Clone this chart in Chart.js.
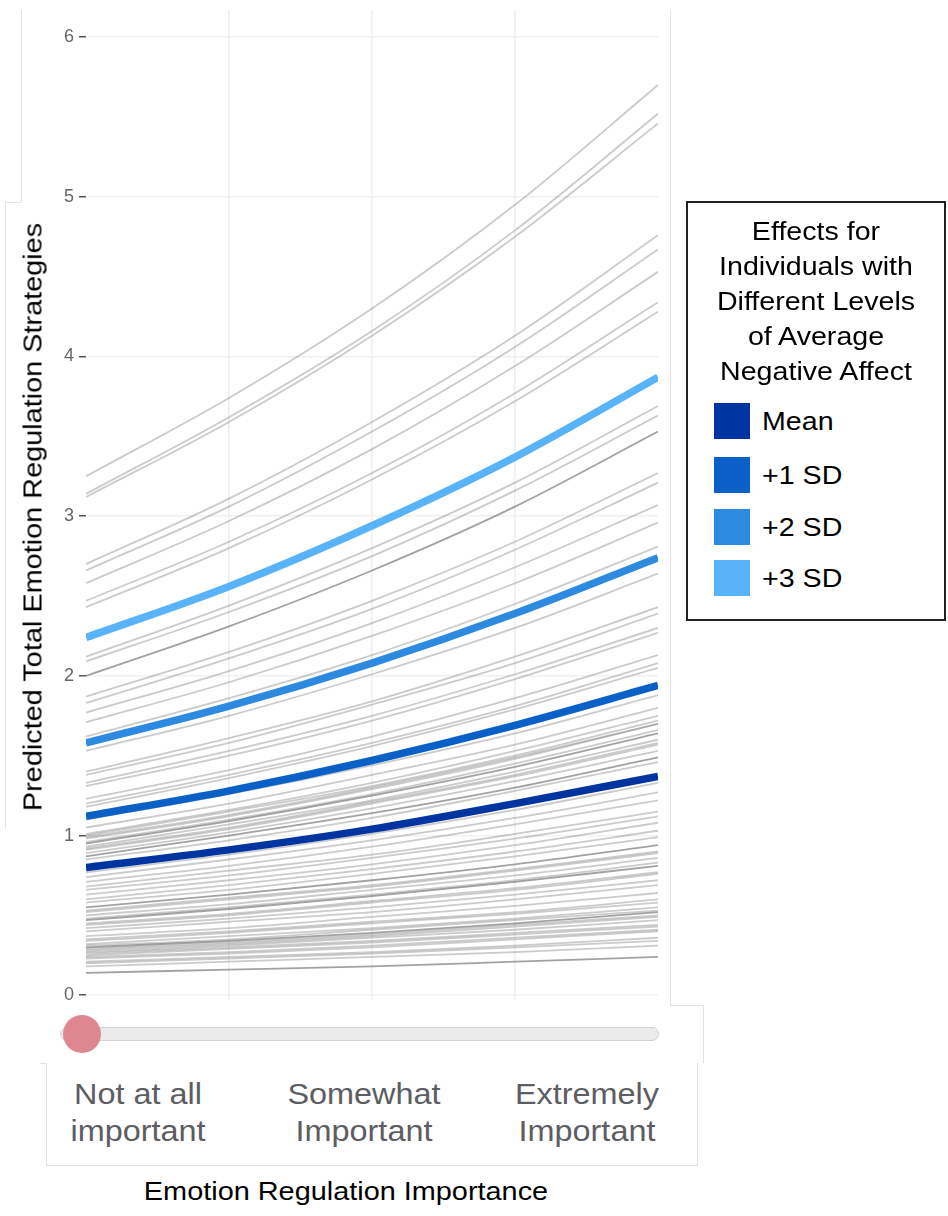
<!DOCTYPE html>
<html>
<head>
<meta charset="utf-8">
<title>Emotion Regulation Importance</title>
<script src="https://cdn.jsdelivr.net/npm/chart.js@4.4.1/dist/chart.umd.min.js"></script>
<style>
  html, body { margin: 0; padding: 0; background: #fff; }
  body { width: 948px; height: 1216px; position: relative; overflow: hidden; font-family: "Liberation Sans", Arial, sans-serif; }
  #wrap { position: absolute; left: 0; top: 0; width: 680px; height: 1000px; }
  .edge { position: absolute; background: #e2e2e2; }
  #y-title { position: absolute; left: 33px; top: 517px; transform: translate(-50%, -50%) rotate(-90deg) scaleX(1.11); white-space: nowrap; font-size: 26px; color: #000; }
  #track { position: absolute; left: 60px; top: 1027px; width: 597px; height: 12px; background: #ebebeb; border: 1px solid #d2d2d2; border-radius: 8px; }
  #knob { position: absolute; left: 63px; top: 1015px; width: 38px; height: 38px; border-radius: 50%; background: #df8791; }
  .lvl { position: absolute; top: 1075px; width: 220px; margin-left: -110px; text-align: center; font-size: 30px; line-height: 37px; color: #5c5d63; transform: scaleX(1.08); }
  #x-title { position: absolute; left: 346px; top: 1176px; transform: translateX(-50%) scaleX(1.11); white-space: nowrap; font-size: 26px; color: #000; }
  #legend { position: absolute; left: 686px; top: 201px; width: 256px; height: 416px; border: 2px solid #222; box-sizing: content-box; }
  #legend .ttl { margin-top: 11px; text-align: center; font-size: 26px; line-height: 35px; color: #000; transform: scaleX(1.1); }
  .item { position: absolute; left: 26px; height: 36px; }
  .item .sw { position: absolute; left: 0; top: 0; width: 36px; height: 36px; }
  .item .lb { position: absolute; left: 48px; top: 0; line-height: 36px; font-size: 26px; color: #000; white-space: nowrap; transform: scaleX(1.1); transform-origin: left center; }
</style>
</head>
<body>

<div class="edge" style="left:21px; top:10px; width:1px; height:192px;"></div>
<div class="edge" style="left:5px; top:202px; width:16px; height:1px;"></div>
<div class="edge" style="left:5px; top:202px; width:1px; height:626px;"></div>
<div class="edge" style="left:670px; top:10px; width:1px; height:995px;"></div>
<div class="edge" style="left:670px; top:1005px; width:34px; height:1px;"></div>
<div class="edge" style="left:703px; top:1005px; width:1px; height:58px;"></div>
<div class="edge" style="left:40px; top:1063px; width:6px; height:1px;"></div>
<div class="edge" style="left:46px; top:1063px; width:1px; height:102px;"></div>
<div class="edge" style="left:46px; top:1165px; width:652px; height:1px;"></div>
<div class="edge" style="left:697px; top:1063px; width:1px; height:102px;"></div>

<div id="wrap"><canvas id="chart"></canvas></div>
<div id="y-title">Predicted Total Emotion Regulation Strategies</div>
<div id="track"></div>
<div id="knob"></div>
<div id="levels"></div>
<div id="x-title">Emotion Regulation Importance</div>
<div id="legend"><div class="ttl">Effects for<br>Individuals with<br>Different Levels<br>of Average<br>Negative Affect</div></div>

<script>
// Niveaux de l'axe x (1 = pas du tout important ... 5 = extrêmement important)
const importanceLevels = [1, 2, 3, 4, 5];

// Courbes individuelles (gris)
const individualLines = [
  [3.25, 3.74, 4.30, 4.95, 5.70],
  [3.14, 3.62, 4.16, 4.79, 5.52],
  [3.12, 3.59, 4.13, 4.75, 5.46],
  [2.70, 3.11, 3.59, 4.13, 4.76],
  [2.66, 3.06, 3.53, 4.06, 4.67],
  [2.58, 2.97, 3.42, 3.94, 4.53],
  [2.47, 2.84, 3.27, 3.77, 4.34],
  [2.43, 2.80, 3.23, 3.72, 4.28],
  [2.12, 2.44, 2.80, 3.21, 3.69],
  [2.09, 2.40, 2.75, 3.16, 3.63],
  [2.00, 2.31, 2.66, 3.06, 3.53],
  [1.87, 2.15, 2.47, 2.84, 3.27],
  [1.83, 2.11, 2.42, 2.79, 3.21],
  [1.77, 2.03, 2.33, 2.68, 3.07],
  [1.71, 1.96, 2.25, 2.58, 2.96],
  [1.62, 1.86, 2.13, 2.45, 2.81],
  [1.53, 1.75, 2.01, 2.30, 2.64],
  [1.40, 1.61, 1.84, 2.12, 2.43],
  [1.38, 1.58, 1.82, 2.08, 2.39],
  [1.33, 1.53, 1.75, 2.01, 2.30],
  [1.31, 1.50, 1.72, 1.98, 2.27],
  [1.23, 1.41, 1.62, 1.86, 2.13],
  [1.20, 1.38, 1.58, 1.81, 2.08],
  [1.18, 1.36, 1.56, 1.79, 2.05],
  [1.10, 1.26, 1.44, 1.64, 1.88],
  [1.05, 1.20, 1.38, 1.57, 1.80],
  [1.01, 1.16, 1.33, 1.53, 1.75],
  [1.00, 1.15, 1.31, 1.50, 1.72],
  [0.99, 1.13, 1.30, 1.49, 1.70],
  [0.98, 1.12, 1.29, 1.48, 1.70],
  [0.96, 1.10, 1.26, 1.45, 1.66],
  [0.95, 1.09, 1.25, 1.43, 1.64],
  [0.93, 1.07, 1.22, 1.40, 1.60],
  [0.92, 1.05, 1.21, 1.38, 1.58],
  [0.91, 1.04, 1.20, 1.37, 1.57],
  [0.89, 1.02, 1.17, 1.34, 1.53],
  [0.87, 1.00, 1.14, 1.30, 1.49],
  [0.85, 0.97, 1.11, 1.28, 1.46],
  [0.77, 0.88, 1.01, 1.16, 1.33],
  [0.74, 0.85, 0.97, 1.11, 1.27],
  [0.71, 0.81, 0.93, 1.07, 1.22],
  [0.68, 0.78, 0.88, 1.01, 1.15],
  [0.66, 0.75, 0.86, 0.98, 1.12],
  [0.63, 0.72, 0.82, 0.94, 1.08],
  [0.60, 0.69, 0.79, 0.90, 1.03],
  [0.58, 0.66, 0.76, 0.87, 0.99],
  [0.55, 0.63, 0.72, 0.82, 0.94],
  [0.53, 0.61, 0.69, 0.79, 0.90],
  [0.52, 0.60, 0.68, 0.78, 0.89],
  [0.50, 0.57, 0.66, 0.75, 0.86],
  [0.48, 0.55, 0.63, 0.72, 0.83],
  [0.47, 0.54, 0.62, 0.71, 0.81],
  [0.45, 0.51, 0.59, 0.67, 0.77],
  [0.44, 0.50, 0.58, 0.66, 0.76],
  [0.42, 0.48, 0.55, 0.63, 0.72],
  [0.40, 0.46, 0.52, 0.60, 0.69],
  [0.37, 0.42, 0.49, 0.56, 0.64],
  [0.35, 0.40, 0.46, 0.52, 0.60],
  [0.34, 0.39, 0.45, 0.51, 0.58],
  [0.32, 0.37, 0.42, 0.48, 0.55],
  [0.31, 0.35, 0.41, 0.47, 0.53],
  [0.30, 0.34, 0.39, 0.45, 0.52],
  [0.29, 0.33, 0.38, 0.44, 0.50],
  [0.28, 0.32, 0.37, 0.43, 0.49],
  [0.27, 0.31, 0.36, 0.41, 0.47],
  [0.26, 0.30, 0.34, 0.39, 0.44],
  [0.25, 0.29, 0.33, 0.38, 0.43],
  [0.24, 0.27, 0.31, 0.36, 0.41],
  [0.23, 0.26, 0.30, 0.35, 0.40],
  [0.21, 0.24, 0.27, 0.31, 0.36],
  [0.20, 0.23, 0.26, 0.30, 0.34],
  [0.18, 0.21, 0.24, 0.27, 0.31],
  [0.14, 0.16, 0.18, 0.21, 0.24]
];
// lignes un peu plus foncées (superpositions)
const darkerLines = [10, 31, 36, 46, 51, 61, 72];

// Effets moyens selon le niveau d'affect négatif
const meanValues  = [0.80, 0.91, 1.04, 1.20, 1.37];
const sd1Values   = [1.12, 1.28, 1.47, 1.69, 1.94];
const sd2Values   = [1.58, 1.81, 2.08, 2.39, 2.74];
const sd3Values   = [2.24, 2.56, 2.94, 3.37, 3.87];

const legendLabels = ['Mean', '+1 SD', '+2 SD', '+3 SD'];
const legendColors = ['#0034a0', '#0a60c6', '#2e89e0', '#58b3fa'];
const levelLabels = [['Not at all', 'important'], ['Somewhat', 'Important'], ['Extremely', 'Important']];
const levelCenters = [138, 364, 587];

const pts = (arr) => arr.map((v, i) => ({ x: importanceLevels[i], y: v }));

const datasets = [];
[meanValues, sd1Values, sd2Values, sd3Values].forEach((serie, i) => {
  datasets.push({
    label: legendLabels[i], data: pts(serie), borderColor: legendColors[i],
    borderWidth: 7.5, pointRadius: 0, cubicInterpolationMode: 'monotone', order: 3 - i
  });
});
individualLines.forEach((serie, i) => {
  const fonce = darkerLines.includes(i);
  datasets.push({
    label: 'ind' + i, data: pts(serie),
    borderColor: fonce ? 'rgba(100,100,100,0.6)' : 'rgba(110,110,110,0.36)',
    borderWidth: 1.8, pointRadius: 0, cubicInterpolationMode: 'monotone', order: 10
  });
});

new Chart(document.getElementById('chart'), {
  type: 'line',
  data: { datasets },
  options: {
    responsive: true,
    maintainAspectRatio: false,
    animation: false,
    layout: { padding: { left: 0, right: 22, top: 10, bottom: 0 } },
    plugins: { legend: { display: false }, tooltip: { enabled: false } },
    scales: {
      x: {
        type: 'linear', min: 1, max: 5,
        ticks: { display: false, stepSize: 1 },
        grid: {
          drawTicks: false, lineWidth: 1.5,
          color: (c) => (c.tick && c.tick.value > 1 && c.tick.value < 5) ? '#eeeeee' : 'rgba(0,0,0,0)'
        },
        border: { display: false },
        afterFit: (s) => { s.height = 0; s.paddingLeft = 0; s.paddingRight = 0; }
      },
      y: {
        min: -0.03, max: 6.17,
        ticks: { stepSize: 1, includeBounds: false, color: '#666', padding: 5, font: { size: 18, family: 'Liberation Sans' } },
        grid: { color: '#f1f1f1', lineWidth: 1.5, tickLength: 7, tickColor: '#555', tickWidth: 1.5 },
        border: { display: false },
        afterFit: (s) => { s.width = 86; s.paddingTop = 0; s.paddingBottom = 0; }
      }
    }
  }
});

// libellés du curseur
const levels = document.getElementById('levels');
levelLabels.forEach((l, i) => {
  const d = document.createElement('div');
  d.className = 'lvl';
  d.style.left = levelCenters[i] + 'px';
  d.innerHTML = l.join('<br>');
  levels.appendChild(d);
});

// légende
const legend = document.getElementById('legend');
const tops = [200, 254, 306, 357];
legendLabels.forEach((l, i) => {
  const it = document.createElement('div');
  it.className = 'item';
  it.style.top = tops[i] + 'px';
  it.innerHTML = `<div class="sw" style="background:${legendColors[i]}"></div><div class="lb">${l}</div>`;
  legend.appendChild(it);
});
</script>
</body>
</html>
